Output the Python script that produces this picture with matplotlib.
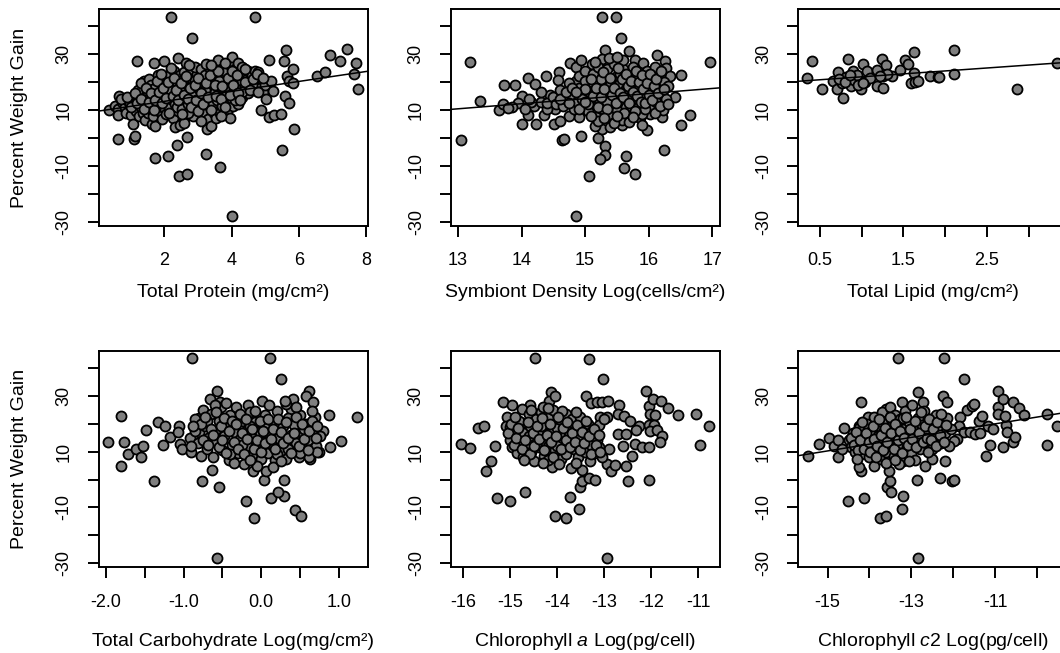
import matplotlib
matplotlib.use('Agg')
import matplotlib.pyplot as plt

plt.rcParams['font.family'] = ['Liberation Sans', 'DejaVu Sans']
plt.rcParams['mathtext.fontset'] = 'custom'
plt.rcParams['mathtext.rm'] = 'Liberation Sans'
plt.rcParams['mathtext.it'] = 'Liberation Sans:italic'

# ---------------- data (x, percent weight gain) ----------------
protein_pts = [
    (0.36, 9.9), (0.55, 11.5), (0.62, 10.5), (0.65, 15.2), (0.63, 8.1), (0.63, -0.4), (0.75, 12.8),
    (0.82, 11.0), (0.9, 13.5), (0.95, 10.2), (0.85, 9.0), (0.98, 12.2), (0.7, 13.8), (1.0, 8.2),
    (1.08, 4.9), (1.11, -0.4), (1.13, 0.8), (1.18, 27.4), (1.05, 14.8), (1.1, 11.5), (1.15, 9.5),
    (1.2, 13.0), (1.25, 7.8), (1.28, 15.5), (1.3, 11.0), (1.35, 18.5), (1.4, 20.3), (1.38, 9.0),
    (1.45, 13.5), (1.48, 16.8), (1.42, 6.5), (1.5, 11.8), (1.22, 17.0), (1.3, 19.5), (1.52, 8.8),
    (1.55, 21.0), (1.6, 19.0), (1.58, 14.5), (1.62, 10.5), (1.65, 4.9), (1.72, 4.3), (1.74, -7.2),
    (1.7, 26.8), (1.68, 8.0), (1.75, 16.0), (1.78, 12.5), (1.8, 18.2), (1.85, 9.5), (1.88, 14.0),
    (1.9, 20.0), (1.92, 6.7), (1.95, 11.2), (1.98, 16.5), (2.0, 27.6), (2.0, 13.0), (1.66, 17.5),
    (1.82, 22.5), (2.02, 10.5), (2.05, 8.5), (2.08, 18.8), (2.1, 22.0), (2.12, -6.3), (2.12, 15.5),
    (2.15, 11.0), (2.19, 43.1), (2.2, 13.8), (2.22, 19.5), (2.25, 7.3), (2.28, 16.8), (2.3, 24.0),
    (2.32, 3.8), (2.33, 12.0), (2.35, 20.5), (2.37, -2.5), (2.4, 28.5), (2.4, 15.0), (2.42, 9.8),
    (2.44, -13.4), (2.45, 18.0), (2.47, 4.8), (2.48, 22.5), (2.5, 13.2), (2.18, 17.5), (2.38, 11.2),
    (2.52, 10.5), (2.55, 17.0), (2.58, 7.3), (2.6, 23.5), (2.62, 14.5), (2.64, 26.8), (2.65, 19.8),
    (2.68, 0.4), (2.68, -12.8), (2.7, 12.0), (2.72, 16.0), (2.75, 21.5), (2.78, 9.5), (2.8, 24.5),
    (2.82, 14.0), (2.83, 35.7), (2.85, 18.5), (2.86, 7.9), (2.9, 11.5), (2.92, 20.8), (2.95, 15.8),
    (2.98, 23.0), (3.0, 13.0), (2.55, 20.8), (2.7, 8.8), (2.88, 16.2), (2.9, 25.5), (2.6, 5.5),
    (3.02, 17.5), (3.05, 10.0), (3.08, 21.0), (3.1, 24.8), (3.12, 14.8), (3.15, 19.0), (3.18, 8.5),
    (3.2, 22.5), (3.22, 12.5), (3.24, -5.7), (3.26, 3.2), (3.28, 16.5), (3.3, 6.7), (3.32, 25.5),
    (3.35, 20.0), (3.38, 11.0), (3.39, 4.3), (3.4, 18.0), (3.42, 14.0), (3.45, 23.5), (3.48, 9.0),
    (3.5, 16.5), (3.05, 13.0), (3.2, 17.0), (3.45, 12.5), (3.25, 26.5), (3.1, 6.0),
    (3.52, 21.5), (3.55, 7.3), (3.55, 26.0), (3.58, 13.5), (3.6, 28.0), (3.62, 18.5), (3.65, -10.4),
    (3.65, 9.1), (3.68, 15.5), (3.7, 22.0), (3.72, 11.5), (3.75, 25.0), (3.78, 17.5), (3.8, 20.0),
    (3.82, 13.0), (3.85, 23.5), (3.88, 16.0), (3.91, 10.3), (3.92, 26.5), (3.95, 7.3), (3.95, 19.0),
    (4.0, 28.9), (4.01, -27.8), (4.0, 14.0), (3.62, 20.5), (3.85, 18.5), (3.8, 26.8), (3.7, 8.0),
    (4.05, 11.4), (4.05, 21.5), (4.08, 17.0), (4.1, 24.5), (4.12, 15.0), (4.15, 19.5), (4.18, 26.8),
    (4.2, 12.0), (4.22, 22.0), (4.25, 17.8), (4.3, 20.5), (4.32, 14.5), (4.35, 23.0), (4.4, 18.5),
    (4.45, 21.0), (4.48, 16.0), (4.5, 24.0), (4.1, 13.5), (4.3, 16.5), (4.3, 25.5),
    (4.55, 19.5), (4.6, 22.5), (4.65, 17.0), (4.69, 43.1), (4.7, 24.0), (4.75, 20.5), (4.8, 23.5),
    (4.85, 18.0), (4.87, 10.0), (4.9, 21.0), (4.95, 16.5), (5.0, 19.0), (4.6, 19.0),
    (5.04, 13.8), (5.12, 27.8), (5.12, 7.5), (5.16, 20.3), (5.22, 16.8), (5.26, 8.2), (5.47, 8.5),
    (5.49, -4.2), (5.56, 27.6), (5.6, 15.0), (5.63, 31.3), (5.65, 22.1), (5.7, 20.3), (5.71, 12.6),
    (5.83, 24.8), (5.83, 19.7), (5.85, 3.2), (6.55, 22.1), (6.79, 23.5), (6.94, 29.8), (7.24, 27.4),
    (7.43, 31.7), (7.63, 22.8), (7.71, 26.8), (7.76, 17.7),
    (0.88, 14.5), (1.02, 11.0), (1.12, 16.0), (1.18, 12.5), (1.32, 13.8), (1.4, 10.5), (1.45, 18.0),
    (1.55, 12.8), (1.6, 16.2), (1.7, 10.0), (1.72, 13.5), (1.78, 20.5), (1.85, 16.5), (1.92, 12.5),
    (1.95, 18.0), (2.05, 14.2), (2.1, 20.2), (2.15, 9.0), (2.25, 15.0), (2.28, 21.5), (2.35, 17.2),
    (2.42, 13.5), (2.5, 19.5), (2.52, 8.5), (2.58, 15.5), (2.65, 22.0), (2.72, 13.8), (2.78, 18.0),
    (2.8, 11.0), (2.9, 19.0), (2.95, 13.5), (3.0, 21.5), (3.0, 9.5), (3.1, 16.0), (3.15, 12.0),
    (3.25, 19.5), (3.3, 14.5), (3.35, 22.5), (3.4, 10.0), (3.5, 19.0), (3.55, 15.0), (3.6, 24.0),
    (3.7, 13.8), (3.72, 18.5), (3.8, 11.0), (3.9, 21.5), (3.95, 15.5), (4.0, 24.0), (4.05, 19.0),
    (4.15, 22.5), (4.2, 16.0), (4.25, 13.5), (4.4, 20.0), (4.4, 24.5), (4.55, 17.0), (4.65, 21.0),
    (4.75, 23.0), (4.8, 16.5), (4.95, 21.5), (3.4, 26.0), (2.75, 26.0), (2.2, 25.0), (1.9, 23.0),
]

symbiont_pts = [
    (13.05, -0.7), (13.19, 27.2), (13.34, 13.2), (13.64, 9.9), (13.72, 18.8), (13.71, 12.3),
    (13.90, 19.1), (14.01, 15.0), (14.01, 4.9), (14.10, 21.3), (14.10, 8.3), (14.22, 19.4),
    (14.23, 5.2), (14.35, 8.3), (14.39, 22.3), (14.51, 4.9), (14.59, 23.5), (14.57, 20.7),
    (14.64, -0.6), (14.67, -0.4), (14.76, 26.8), (14.85, 25.3), (14.93, 28.0), (14.94, 0.6),
    (15.07, -13.6), (14.86, -27.8), (15.11, 26.5), (15.27, 43.1), (15.49, 43.1), (15.56, 35.7),
    (15.32, 31.5), (15.27, 28.2), (15.44, 28.2), (15.69, 31.2), (15.78, 27.8), (15.91, 26.8),
    (16.14, 29.8), (16.26, 27.6), (16.28, 25.0), (16.33, 22.1), (16.51, 22.7), (16.96, 27.2),
    (16.42, 14.8), (16.65, 8.3), (16.51, 4.6), (16.24, -4.3), (16.21, 7.5), (16.20, 12.6),
    (15.98, 2.9), (16.03, 8.5), (15.86, 7.3), (15.64, -6.5), (15.61, -10.8), (15.78, -12.8),
    (15.32, -2.7), (15.32, -6.1), (15.23, -7.5), (15.21, 0.2), (15.27, 3.4), (15.16, 4.3),
    (15.40, 4.0), (15.58, 4.6), (14.90, 7.7), (14.74, 7.9), (14.61, 6.1), (14.53, 10.3),
    (14.85, 20.5), (14.71, 15.3),
    (14.2, 11.5), (14.3, 13.0), (14.4, 10.5), (14.45, 15.5), (14.3, 16.5), (14.15, 12.8),
    (13.95, 12.5), (13.85, 11.2), (14.05, 10.5), (14.4, 12.5), (13.78, 10.8), (14.12, 14.0),
    (14.5, 14.5), (14.55, 12.0), (14.6, 17.0), (14.65, 11.5), (14.7, 13.8), (14.75, 19.5),
    (14.8, 15.2), (14.82, 10.5), (14.88, 13.0), (14.9, 22.0), (14.95, 16.5), (14.98, 11.0),
    (15.0, 24.0), (15.02, 14.5), (15.05, 9.5), (15.08, 19.0), (15.1, 12.5), (15.12, 22.8),
    (15.15, 16.0), (15.18, 7.5), (15.2, 25.5), (15.22, 13.5), (15.25, 18.5), (15.28, 10.5),
    (15.3, 21.5), (15.32, 15.0), (15.35, 24.5), (15.38, 8.5), (15.4, 19.0), (15.42, 12.0),
    (15.45, 26.5), (15.48, 16.5), (15.5, 22.0), (15.5, 10.0), (15.52, 14.0), (15.55, 19.5),
    (15.58, 6.5), (15.6, 24.5), (15.62, 12.5), (15.65, 17.5), (15.68, 21.0), (15.7, 9.5),
    (15.72, 15.0), (15.75, 25.5), (15.78, 13.0), (15.8, 19.0), (15.82, 22.5), (15.85, 11.5),
    (15.88, 16.0), (15.9, 8.5), (15.92, 20.5), (15.95, 14.5), (15.98, 24.0), (16.0, 18.0),
    (16.02, 11.0), (16.05, 21.5), (16.08, 15.5), (16.1, 25.5), (16.12, 13.0), (16.15, 19.5),
    (16.18, 22.5), (16.2, 17.0), (16.22, 10.0), (16.25, 20.0), (16.28, 14.0), (16.3, 18.5),
    (15.15, 27.0), (15.38, 28.5), (15.6, 28.0), (15.5, 29.0), (15.2, 6.0), (15.45, 5.5),
    (15.7, 5.8), (15.9, 4.5), (15.05, 16.8), (15.35, 13.0), (15.65, 11.0), (15.95, 10.5),
    (15.25, 21.0), (15.55, 23.0), (15.85, 18.0), (16.1, 9.0), (14.9, 18.0), (15.0, 20.5),
    (14.6, 14.0), (14.7, 16.5), (14.75, 12.5), (14.8, 18.0), (14.9, 10.5), (14.95, 14.0),
    (15.0, 17.5), (15.05, 12.0), (15.1, 21.0), (15.12, 15.0), (15.18, 18.0), (15.2, 11.0),
    (15.25, 14.5), (15.28, 23.5), (15.3, 17.5), (15.35, 10.5), (15.4, 21.5), (15.42, 15.5),
    (15.45, 18.0), (15.48, 12.5), (15.52, 25.0), (15.55, 16.0), (15.58, 21.0), (15.6, 14.5),
    (15.62, 9.0), (15.65, 23.0), (15.68, 18.5), (15.7, 12.5), (15.72, 20.5), (15.75, 16.5),
    (15.78, 9.5), (15.8, 24.0), (15.82, 15.0), (15.85, 20.0), (15.88, 13.0), (15.9, 22.5),
    (15.92, 17.5), (15.95, 12.5), (15.98, 19.5), (16.0, 15.5), (16.02, 23.0), (16.05, 13.5),
    (16.08, 18.5), (16.12, 21.0), (16.15, 16.0), (16.18, 11.5), (16.2, 24.0), (16.25, 17.5),
    (16.3, 12.0), (14.85, 16.5), (15.0, 13.0), (15.1, 8.0), (15.3, 7.0), (15.5, 8.0), (15.75, 7.5),
]

lipid_pts = [
    (0.35, 21.3), (0.40, 27.4), (0.52, 17.7), (0.65, 20.3), (0.71, 23.6), (0.70, 17.4),
    (0.76, 19.7), (0.77, 14.4), (0.81, 21.7), (0.84, 28.2), (0.87, 18.5), (0.89, 24.1),
    (0.91, 20.9), (0.94, 22.7), (0.99, 17.6), (1.01, 26.5), (1.04, 20.0), (1.06, 23.9),
    (1.18, 18.5), (1.18, 24.2), (1.24, 28.2), (1.25, 17.9), (1.25, 22.3), (1.29, 26.0),
    (1.36, 22.1), (1.46, 24.4), (1.52, 28.0), (1.55, 26.6), (1.63, 30.9), (1.63, 23.3),
    (1.59, 19.5), (1.64, 20.0), (1.68, 20.3), (1.82, 22.1), (1.91, 21.8), (1.93, 21.9),
    (2.11, 31.5), (2.11, 22.8), (2.86, 17.6), (3.34, 26.8),
    (0.73, 21.0), (0.80, 20.0), (0.95, 19.0), (1.10, 21.5), (1.30, 23.0), (0.86, 22.5),
    (1.22, 22.0), (1.02, 19.5),
]

carb_pts = [
    (-1.98, 13.3), (-1.81, 22.6), (-1.77, 13.3), (-1.81, 5.0), (-1.72, 9.2), (-1.61, 11.0),
    (-1.52, 12.1), (-1.55, 8.2), (-1.48, 17.9), (-1.38, -0.6), (-1.33, 20.7), (-1.24, 19.3),
    (-1.18, 15.4), (-1.26, 12.4), (-1.06, 19.3), (-1.07, 17.1), (-1.05, 12.7), (-1.02, 11.0),
    (-0.92, 14.9), (-0.90, 9.8), (-0.89, 43.5), (-0.78, 8.6), (-0.77, -0.7), (-0.64, 3.5),
    (-0.54, -2.7), (-0.57, -28.1), (-0.57, 31.8), (-0.66, 28.8), (-0.80, 22.0), (-0.53, 27.9),
    (-0.20, -7.5), (-0.09, -13.7), (0.04, 0.0), (0.06, 3.0), (0.12, -6.7), (0.11, 43.5),
    (0.26, 36.0), (0.29, 0.0), (0.29, -6.0), (0.21, -4.3), (0.44, -10.8), (0.51, -13.1),
    (-0.11, 3.2), (0.01, 28.2), (-0.17, 26.8), (0.87, 23.2), (0.89, 11.5), (1.02, 13.7),
    (1.23, 22.5), (0.61, 31.8), (0.58, 30.0), (0.67, 27.9), (0.69, 22.5), (0.80, 17.5),
    (0.74, 9.8), (0.63, 7.4), (0.41, 28.8), (0.38, 25.2), (0.32, 27.0),
    (-0.85, 21.5), (-0.8, 17.0), (-0.82, 13.0), (-0.75, 25.0), (-0.72, 19.0), (-0.7, 11.0),
    (-0.68, 15.0), (-0.65, 23.5), (-0.62, 8.0), (-0.6, 17.5), (-0.58, 13.5), (-0.55, 21.0),
    (-0.52, 26.0), (-0.5, 10.5), (-0.48, 15.5), (-0.45, 19.5), (-0.42, 7.0), (-0.4, 23.0),
    (-0.38, 12.5), (-0.35, 17.0), (-0.32, 26.0), (-0.3, 9.5), (-0.28, 14.5), (-0.25, 21.0),
    (-0.22, 5.5), (-0.2, 17.5), (-0.18, 12.0), (-0.15, 24.0), (-0.12, 8.5), (-0.1, 15.0),
    (-0.08, 20.5), (-0.05, 11.0), (-0.02, 17.0), (0.0, 7.5), (0.02, 13.5), (0.05, 23.0),
    (0.08, 9.5), (0.1, 16.5), (0.12, 20.0), (0.15, 12.0), (0.18, 7.0), (0.2, 24.5),
    (0.22, 15.0), (0.25, 10.0), (0.28, 19.0), (0.3, 13.5), (0.32, 7.5), (0.35, 22.0),
    (0.38, 16.0), (0.4, 10.5), (0.42, 19.5), (0.45, 13.0), (0.48, 8.0), (0.5, 23.0),
    (0.52, 16.5), (0.55, 11.5), (0.58, 20.0), (0.6, 14.0), (0.62, 8.0), (0.65, 24.5),
    (0.68, 17.0), (0.7, 12.0), (0.72, 10.0), (0.75, 15.5),
    (-0.35, 6.0), (-0.05, 5.0), (0.15, 4.5), (-0.6, 26.5), (-0.45, 27.5), (0.45, 26.0),
    (0.3, 28.0), (-0.7, 21.0), (-0.25, 12.5), (0.05, 18.5), (0.35, 11.0), (0.55, 18.0),
    (-0.9, 12.0), (-0.15, 19.0), (0.2, 9.0), (0.5, 9.5), (-0.4, 9.0), (0.1, 26.5),
    (-0.85, 17.5), (-0.78, 20.0), (-0.75, 14.0), (-0.72, 22.5), (-0.68, 12.5), (-0.65, 18.0),
    (-0.62, 16.0), (-0.58, 24.0), (-0.55, 11.5), (-0.52, 19.0), (-0.5, 14.0), (-0.48, 22.0),
    (-0.45, 9.5), (-0.42, 17.5), (-0.38, 21.0), (-0.35, 13.5), (-0.32, 20.0), (-0.3, 11.0),
    (-0.28, 23.5), (-0.25, 16.5), (-0.22, 9.0), (-0.2, 21.5), (-0.18, 14.5), (-0.12, 18.0),
    (-0.1, 11.0), (-0.08, 24.5), (-0.05, 14.0), (-0.02, 21.0), (0.0, 10.0), (0.02, 17.5),
    (0.05, 13.0), (0.08, 21.5), (0.12, 14.5), (0.15, 18.0), (0.18, 11.0), (0.22, 21.5),
    (0.25, 17.0), (0.28, 13.0), (0.32, 20.5), (0.35, 15.0), (0.38, 9.5), (0.42, 16.5),
    (0.45, 22.5), (0.48, 12.0), (0.52, 20.0), (0.55, 14.5), (0.6, 10.5), (0.62, 17.5),
    (0.65, 21.0), (0.7, 15.0), (0.72, 19.0), (-0.88, 19.0), (-0.15, 7.0), (0.25, 6.5),
]

chla_pts = [
    (-16.04, 12.7), (-15.84, 11.2), (-15.68, 18.3), (-15.56, 19.0), (-15.31, 12.0), (-15.41, 6.8),
    (-15.50, 3.2), (-15.15, 27.6), (-15.27, -6.7), (-14.99, -7.5), (-14.67, -4.3), (-14.46, 43.5),
    (-14.57, 26.8), (-14.95, 26.7), (-15.06, 22.3), (-15.09, 19.3), (-14.99, 18.7), (-14.74, 25.2),
    (-14.75, 20.2), (-14.12, 31.4), (-14.18, 28.2), (-14.04, -13.1), (-13.80, -13.7), (-13.73, -6.1),
    (-13.54, -10.7), (-13.52, -2.7), (-13.47, -0.7), (-13.33, 43.3), (-13.39, 29.8), (-13.27, 27.3),
    (-13.15, 27.9), (-13.03, 36.0), (-12.94, -28.1), (-13.33, 0.5), (-13.19, -0.2), (-13.05, 27.9),
    (-12.91, 28.0), (-12.68, 26.8), (-13.08, 22.5), (-12.95, 22.5), (-12.94, 5.6), (-12.86, 3.2),
    (-12.78, 5.2), (-12.89, 11.0), (-12.70, 16.3), (-12.70, 23.5), (-12.59, 22.6), (-12.53, 16.3),
    (-12.60, 11.9), (-12.54, 5.0), (-12.50, -0.7), (-12.41, 8.3), (-12.46, 21.1), (-12.27, 19.3),
    (-12.32, 17.9), (-12.34, 12.7), (-12.20, 11.5), (-12.04, 11.5), (-12.12, 31.8), (-12.06, 26.2),
    (-11.97, 28.8), (-12.02, 23.5), (-11.92, 23.2), (-12.04, 19.5), (-11.94, 19.5), (-12.02, 17.5),
    (-11.88, 17.7), (-11.78, 15.7), (-11.81, 13.6), (-12.06, 0.0), (-11.79, 28.0), (-11.64, 25.5),
    (-11.44, 23.2), (-11.05, 23.5), (-10.77, 19.3), (-10.96, 12.5),
    (-15.0, 14.0), (-14.95, 11.5), (-14.9, 17.0), (-14.85, 9.5), (-14.8, 21.0), (-14.78, 13.5),
    (-14.72, 8.0), (-14.7, 16.5), (-14.65, 12.0), (-14.6, 23.5), (-14.58, 19.0), (-14.55, 10.0),
    (-14.5, 14.5), (-14.48, 6.5), (-14.45, 21.5), (-14.4, 17.5), (-14.38, 11.5), (-14.35, 24.0),
    (-14.3, 14.0), (-14.28, 8.5), (-14.25, 19.5), (-14.2, 22.0), (-14.18, 12.5), (-14.15, 16.5),
    (-14.1, 4.5), (-14.08, 25.0), (-14.05, 10.5), (-14.0, 18.5), (-13.98, 14.0), (-13.95, 21.5),
    (-13.92, 7.5), (-13.9, 16.0), (-13.85, 12.0), (-13.82, 23.5), (-13.8, 9.0), (-13.75, 19.0),
    (-13.72, 14.5), (-13.7, 4.0), (-13.68, 21.5), (-13.65, 11.0), (-13.6, 16.5), (-13.55, 8.0),
    (-13.52, 22.5), (-13.5, 13.0), (-13.48, 3.5), (-13.45, 18.5), (-13.4, 10.0), (-13.38, 15.5),
    (-13.35, 20.0), (-13.3, 6.5), (-13.28, 12.5), (-13.25, 17.5), (-13.2, 9.5), (-13.15, 14.0),
    (-13.12, 19.5), (-13.1, 11.5), (-13.05, 8.0), (-13.0, 21.5),
    (-14.05, 30.0), (-13.9, 24.5), (-14.3, 26.0), (-14.6, 15.5), (-14.2, 7.0), (-13.6, 6.0),
    (-14.85, 13.0), (-14.45, 12.5), (-14.0, 12.0), (-13.75, 17.0), (-14.35, 19.0), (-13.55, 15.0),
    (-15.05, 16.5), (-14.98, 20.0), (-14.92, 12.5), (-14.88, 15.0), (-14.82, 18.5), (-14.75, 11.0),
    (-14.68, 14.0), (-14.62, 20.5), (-14.58, 9.0), (-14.52, 16.5), (-14.48, 12.0), (-14.42, 19.0),
    (-14.38, 14.5), (-14.32, 22.0), (-14.28, 10.5), (-14.22, 16.0), (-14.15, 20.0), (-14.12, 13.5),
    (-14.08, 8.0), (-14.02, 15.5), (-13.98, 22.5), (-13.92, 11.0), (-13.88, 18.5), (-13.82, 14.0),
    (-13.78, 20.5), (-13.72, 11.5), (-13.68, 16.5), (-13.62, 13.5), (-13.58, 19.5), (-13.52, 10.5),
    (-13.48, 17.0), (-13.42, 13.0), (-13.38, 21.0), (-13.32, 15.5), (-13.28, 9.0), (-13.22, 18.0),
    (-13.18, 12.5), (-13.12, 16.0), (-13.08, 10.0), (-14.7, 7.0), (-14.3, 6.0), (-13.95, 5.5),
    (-14.55, 25.0), (-14.2, 25.5), (-13.6, 24.0), (-14.9, 22.5),
]

chlc2_pts = [
    (-15.48, 8.3), (-15.20, 12.7), (-14.97, 14.9), (-14.74, 8.2), (-14.61, 18.3), (-14.51, -7.5),
    (-14.19, 27.9), (-14.24, 19.3), (-14.21, 3.2), (-14.24, 4.4), (-14.13, -6.7), (-14.04, 22.3),
    (-13.75, -13.7), (-13.61, -13.1), (-13.60, 25.2), (-13.59, -2.7), (-13.48, -4.3), (-13.51, -0.6),
    (-13.53, 3.0), (-13.31, 43.5), (-13.23, 27.9), (-13.19, -6.0), (-13.23, -10.7), (-12.85, 31.4),
    (-12.85, -28.1), (-12.87, -0.1), (-12.73, 27.9), (-12.21, 43.5), (-12.25, 30.0), (-12.14, 27.6),
    (-12.31, 0.5), (-12.02, -0.7), (-11.98, 0.0), (-12.19, 6.5), (-12.51, 7.4), (-12.67, 5.0),
    (-11.74, 36.0), (-11.67, 25.0), (-11.56, 26.2), (-11.50, 27.0), (-11.83, 22.3), (-11.87, 19.3),
    (-11.73, 17.1), (-11.59, 16.9), (-11.47, 16.3), (-11.36, 16.5), (-11.38, 21.1), (-11.32, 22.6),
    (-11.91, 14.5), (-11.99, 13.9), (-11.22, 8.3), (-11.12, 12.4), (-11.16, 19.0), (-11.04, 18.1),
    (-10.92, 31.8), (-10.94, 25.8), (-10.92, 23.5), (-10.80, 28.8), (-10.80, 11.8), (-10.73, 19.5),
    (-10.71, 17.1), (-10.56, 13.3), (-10.52, 15.1), (-10.58, 27.9), (-10.42, 25.5), (-10.30, 23.2),
    (-9.76, 23.5), (-9.76, 12.5), (-9.52, 19.3), (-10.76, 22.9),
    (-14.5, 14.0), (-14.45, 11.5), (-14.4, 16.5), (-14.35, 10.0), (-14.3, 13.0), (-14.25, 18.5),
    (-14.2, 9.0), (-14.15, 15.0), (-14.1, 12.0), (-14.05, 20.0), (-14.0, 8.0), (-13.98, 17.0),
    (-13.95, 13.5), (-13.9, 22.5), (-13.85, 10.5), (-13.8, 15.5), (-13.78, 19.0), (-13.75, 7.5),
    (-13.7, 24.0), (-13.68, 13.0), (-13.65, 17.5), (-13.6, 10.0), (-13.58, 21.0), (-13.55, 15.0),
    (-13.5, 26.0), (-13.48, 12.0), (-13.45, 19.0), (-13.42, 8.5), (-13.4, 23.0), (-13.38, 14.5),
    (-13.35, 17.0), (-13.3, 10.5), (-13.28, 21.5), (-13.25, 13.0), (-13.2, 6.5), (-13.18, 18.0),
    (-13.15, 24.5), (-13.1, 11.5), (-13.08, 15.5), (-13.05, 20.5), (-13.0, 9.0), (-12.98, 26.5),
    (-12.95, 13.5), (-12.9, 17.5), (-12.85, 22.0), (-12.8, 11.0), (-12.78, 15.0), (-12.75, 19.5),
    (-12.7, 24.5), (-12.65, 13.0), (-12.6, 17.0), (-12.55, 21.5), (-12.5, 11.0), (-12.45, 15.5),
    (-12.4, 23.0), (-12.35, 18.5), (-12.3, 13.0), (-12.25, 20.5), (-12.2, 16.5), (-12.15, 22.0),
    (-12.1, 12.0), (-12.05, 18.0),
    (-14.85, 12.0), (-14.75, 14.0), (-14.65, 11.0), (-13.9, 5.0), (-13.6, 6.0), (-13.3, 5.5),
    (-12.9, 7.0), (-13.7, 20.5), (-13.2, 22.0), (-12.6, 10.0), (-14.05, 14.5), (-13.45, 16.0),
    (-14.45, 15.0), (-14.38, 12.5), (-14.32, 17.0), (-14.28, 10.5), (-14.22, 14.0), (-14.18, 20.5),
    (-14.12, 11.0), (-14.08, 16.5), (-14.02, 13.5), (-13.98, 10.0), (-13.92, 19.0), (-13.88, 14.5),
    (-13.82, 12.0), (-13.78, 21.5), (-13.72, 16.0), (-13.68, 10.5), (-13.62, 18.5), (-13.58, 13.5),
    (-13.52, 22.5), (-13.48, 16.5), (-13.42, 11.0), (-13.38, 20.0), (-13.32, 14.0), (-13.28, 17.5),
    (-13.22, 9.5), (-13.18, 15.0), (-13.12, 22.5), (-13.08, 12.5), (-13.02, 18.0), (-12.98, 14.5),
    (-12.92, 21.0), (-12.88, 11.5), (-12.82, 16.5), (-12.78, 24.0), (-12.72, 13.5), (-12.68, 19.0),
    (-12.62, 15.0), (-12.58, 21.5), (-12.52, 14.0), (-12.48, 18.0), (-12.42, 12.0), (-12.38, 20.5),
    (-12.32, 16.0), (-12.28, 23.5), (-12.22, 13.5), (-12.18, 19.5), (-13.85, 8.0), (-13.4, 7.0),
    (-13.05, 6.5), (-14.3, 7.5),
]

# regression lines: (intercept, slope)
protein_fit = [9.56, 1.777]
symbiont_fit = [-13.14, 1.815]
lipid_fit = [19.78, 2.10]
chlc2_fit = [46.54, 2.42]

y_ticks = [-30, -20, -10, 0, 10, 20, 30, 40]
y_tick_labels = ['-30', '', '-10', '', '10', '', '30', '']

panels = [
    dict(pts=protein_pts, fit=protein_fit, xlim=(0.06, 8.05),
         ticks=[2, 4, 6, 8], labels=['2', '4', '6', '8'],
         xlabel='Total Protein (mg/cm²)'),
    dict(pts=symbiont_pts, fit=symbiont_fit, xlim=(12.89, 17.12),
         ticks=[13, 14, 15, 16, 17], labels=['13', '14', '15', '16', '17'],
         xlabel='Symbiont Density Log(cells/cm²)'),
    dict(pts=lipid_pts, fit=lipid_fit, xlim=(0.24, 3.46),
         ticks=[0.5, 1.0, 1.5, 2.0, 2.5, 3.0], labels=['0.5', '', '1.5', '', '2.5', ''],
         xlabel='Total Lipid (mg/cm²)'),
    dict(pts=carb_pts, fit=None, xlim=(-2.09, 1.37),
         ticks=[-2.0, -1.5, -1.0, -0.5, 0.0, 0.5, 1.0],
         labels=['-2.0', '', '-1.0', '', '0.0', '', '1.0'],
         xlabel='Total Carbohydrate Log(mg/cm²)'),
    dict(pts=chla_pts, fit=None, xlim=(-16.25, -10.55),
         ticks=[-16, -15, -14, -13, -12, -11],
         labels=['-16', '-15', '-14', '-13', '-12', '-11'],
         xlabel='Chlorophyll $a$ Log(pg/cell)'),
    dict(pts=chlc2_pts, fit=chlc2_fit, xlim=(-15.70, -9.28),
         ticks=[-15, -14, -13, -12, -11, -10],
         labels=['-15', '', '-13', '', '-11', ''],
         xlabel='Chlorophyll $\\mathit{c2}$ Log(pg/cell)'),
]

W, H = 1060.0, 653.0
fig = plt.figure(figsize=(W / 100, H / 100), dpi=100)

col_left = [99.0, 451.0, 798.3]
col_width = 268.7
rows = [(9.0, 226.0, 67.0), (350.7, 567.3, 74.0)]  # top, bottom, xlabel offset (px)

for i, p in enumerate(panels):
    r, c = divmod(i, 3)
    top, bottom, lab_off = rows[r]
    left = col_left[c]
    ax = fig.add_axes([left / W, 1 - bottom / H, col_width / W, (bottom - top) / H])
    xs = [q[0] for q in p['pts']]
    ys = [q[1] for q in p['pts']]
    ax.scatter(xs, ys, s=52, facecolor='#7f7f7f', edgecolor='black', linewidths=1.3,
               zorder=2, clip_on=False)
    if p['fit'] is not None:
        b0, b1 = p['fit']
        x0, x1 = p['xlim']
        ax.plot([x0, x1], [b0 + b1 * x0, b0 + b1 * x1], color='black', lw=1.1, zorder=3)
    ax.set_xlim(*p['xlim'])
    ax.set_ylim(-31.4, 46.1)
    ax.set_xticks(p['ticks'])
    ax.set_xticklabels(p['labels'])
    ax.set_yticks(y_ticks)
    ax.set_yticklabels(y_tick_labels, rotation=90, va='center')
    ax.tick_params(axis='both', direction='out', length=7.9, width=1.4,
                   labelsize=13, pad=11, colors='black')
    for s in ax.spines.values():
        s.set_linewidth(1.4)
    ax.text(0.5, -lab_off / (bottom - top), p['xlabel'], transform=ax.transAxes,
            ha='center', va='center', fontsize=14)
    if c == 0:
        ax.text((20 - left) / col_width, 0.5, 'Percent Weight Gain', transform=ax.transAxes,
                rotation=90, ha='center', va='center', fontsize=14)

fig.savefig('out.png', dpi=100)
